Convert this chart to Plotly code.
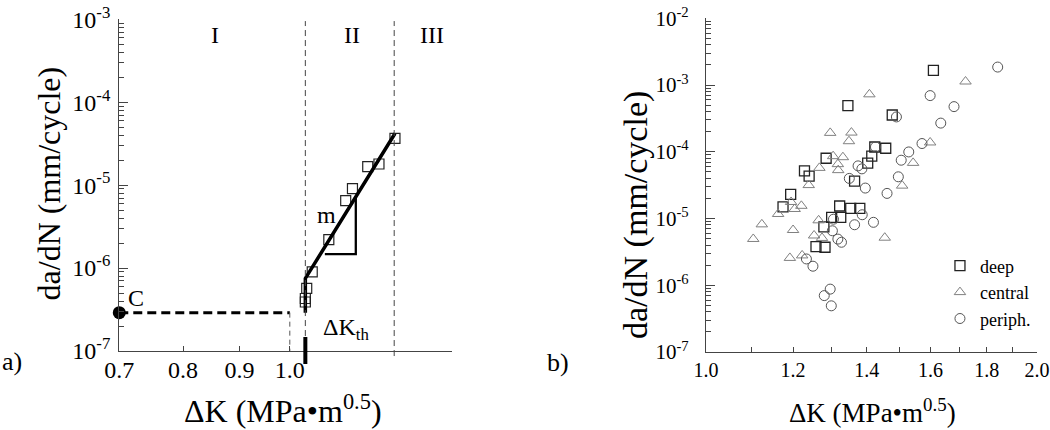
import math
import plotly.graph_objects as go

# ---- panel a) : schematic crack growth curve ----
a_dk = [1.033, 1.033, 1.036, 1.048, 1.085, 1.124, 1.140, 1.177, 1.205, 1.246]
a_rate = [3.9e-7, 4.3e-7, 5.7e-7, 9.0e-7, 2.2e-6, 6.5e-6, 9.1e-6, 1.67e-5, 1.8e-5, 3.67e-5]

fit_dk = [1.033, 1.033, 1.246]
fit_rate = [2.9e-7, 7.5e-7, 4.2e-5]

slope_dk = [1.076, 1.148, 1.148]
slope_rate = [1.475e-6, 1.475e-6, 7.4e-6]

c_dk = 0.7
c_rate = 2.9e-7
dk_onset = 1.0
dk_th = 1.033
dk_region3 = 1.244

a_xticks = [0.7, 0.8, 0.9, 1.0]
a_yticks = [1e-7, 1e-6, 1e-5, 1e-4, 1e-3]

# ---- panel b) : measured data ----
deep_dk = [1.610, 1.346, 1.477, 1.424, 1.457, 1.415, 1.403, 1.365, 1.286, 1.229, 1.241,
           1.194, 1.175, 1.323, 1.354, 1.380, 1.301, 1.326, 1.280, 1.259, 1.283]
deep_rate = [1.66e-3, 4.92e-4, 3.56e-4, 1.18e-4, 1.13e-4, 8.6e-5, 6.76e-5, 3.64e-5, 8.0e-5, 5.18e-5, 4.31e-5,
             2.30e-5, 1.50e-5, 1.54e-5, 1.42e-5, 1.42e-5, 1.04e-5, 1.04e-5, 7.5e-6, 3.79e-6, 3.71e-6]

central_dk = [1.408, 1.722, 1.297, 1.356, 1.349, 1.599, 1.305, 1.332, 1.318, 1.319, 1.268, 1.240, 1.543, 1.508,
              1.195, 1.221, 1.204, 1.163, 1.124, 1.104, 1.200, 1.266, 1.254, 1.275, 1.192, 1.223, 1.454]
central_rate = [7.26e-4, 1.13e-3, 1.92e-4, 1.94e-4, 1.44e-4, 1.38e-4, 8.6e-5, 8.3e-5, 6.53e-5, 5.31e-5, 5.74e-5,
                3.17e-5, 6.82e-5, 3.11e-5, 1.77e-5, 1.55e-5, 1.39e-5, 1.17e-5, 8.18e-6, 4.94e-6, 6.73e-6,
                9.4e-6, 5.57e-6, 5.12e-6, 2.57e-6, 2.80e-6, 5.16e-6]

periph_dk = [1.842, 1.599, 1.681, 1.490, 1.635, 1.572, 1.529, 1.505, 1.426, 1.375, 1.386, 1.350, 1.496, 1.396,
             1.461, 1.387, 1.420, 1.365, 1.306, 1.303, 1.318, 1.328, 1.234, 1.251, 1.297, 1.281, 1.300]
periph_rate = [1.86e-3, 6.95e-4, 4.75e-4, 3.33e-4, 2.69e-4, 1.33e-4, 9.95e-5, 7.48e-5, 1.18e-4, 6.15e-5, 5.55e-5,
               3.99e-5, 4.22e-5, 2.86e-5, 2.38e-5, 1.14e-5, 8.77e-6, 8.07e-6, 9.77e-6, 6.55e-6, 4.92e-6,
               4.41e-6, 2.48e-6, 1.93e-6, 8.75e-7, 7.0e-7, 4.92e-7]

b_xticks = [1.0, 1.2, 1.4, 1.6, 1.8, 2.0]
b_xminor = [1.1, 1.3, 1.5, 1.7, 1.9]
b_yticks = [1e-7, 1e-6, 1e-5, 1e-4, 1e-3, 1e-2]

SERIF = "Liberation Serif, Times New Roman, serif"
AX = "#444"


def pow_label(v):
    return "10<sup>%d</sup>" % round(math.log10(v))


fig = go.Figure()

# panel a traces
fig.add_trace(go.Scatter(x=[c_dk, dk_onset], y=[c_rate, c_rate], mode="lines",
                         line=dict(color="black", width=3, dash="9px,5px"),
                         xaxis="x", yaxis="y", showlegend=False))
fig.add_trace(go.Scatter(x=[dk_onset, dk_onset], y=[c_rate, a_yticks[0]], mode="lines",
                         line=dict(color="#555", width=1, dash="5px,4px"),
                         xaxis="x", yaxis="y", showlegend=False))
fig.add_trace(go.Scatter(x=a_dk, y=a_rate, mode="markers",
                         marker=dict(symbol="square-open", size=10, color="#222", line=dict(width=1.2)),
                         xaxis="x", yaxis="y", showlegend=False))
fig.add_trace(go.Scatter(x=fit_dk, y=fit_rate, mode="lines",
                         line=dict(color="black", width=3.5),
                         xaxis="x", yaxis="y", showlegend=False))
fig.add_trace(go.Scatter(x=slope_dk, y=slope_rate, mode="lines",
                         line=dict(color="black", width=2.3),
                         xaxis="x", yaxis="y", showlegend=False))
fig.add_trace(go.Scatter(x=[c_dk], y=[c_rate], mode="markers", cliponaxis=False,
                         marker=dict(symbol="circle", size=13, color="black"),
                         xaxis="x", yaxis="y", showlegend=False))

# panel b traces
fig.add_trace(go.Scatter(x=deep_dk, y=deep_rate, mode="markers", name="deep",
                         marker=dict(symbol="square-open", size=10, color="#222", line=dict(width=1.3)),
                         xaxis="x2", yaxis="y2"))
fig.add_trace(go.Scatter(x=central_dk, y=central_rate, mode="markers", name="central",
                         marker=dict(symbol="triangle-up-open", size=10, color="#808080", line=dict(width=1)),
                         xaxis="x2", yaxis="y2"))
fig.add_trace(go.Scatter(x=periph_dk, y=periph_rate, mode="markers", name="periph.",
                         marker=dict(symbol="circle-open", size=10, color="#555", line=dict(width=1)),
                         xaxis="x2", yaxis="y2"))

# region boundaries and threshold bar
shapes = []
for xv in [dk_th, dk_region3]:
    shapes.append(dict(type="line", xref="x", yref="paper", x0=xv, x1=xv, y0=0.172, y1=0.951,
                       line=dict(color="#444", width=1, dash="6px,4px")))
shapes.append(dict(type="line", xref="x", yref="paper", x0=dk_th, x1=dk_th, y0=0.1535, y1=0.2163,
                   line=dict(color="black", width=4)))

txt = dict(family=SERIF, size=24, color="black")
ann = []
for label, xv in [("I", 0.855), ("II", 1.138), ("III", 1.345)]:
    ann.append(dict(text=label, x=math.log10(xv), y=math.log10(6.5e-4), xref="x", yref="y",
                    showarrow=False, font=txt))
ann.append(dict(text="m", x=0.0334, y=-5.361, xref="x", yref="y", showarrow=False, font=txt))
ann.append(dict(text="C", x=-0.1394, y=-6.358, xref="x", yref="y", showarrow=False, font=txt))
ann.append(dict(text="ΔK<sub>th</sub>", x=0.028, y=-6.73, xref="x", yref="y", xanchor="left",
                showarrow=False, font=txt))
ann.append(dict(text="a)", x=0.023, y=0.16, xref="paper", yref="paper", xanchor="right", yanchor="middle",
                showarrow=False, font=dict(family=SERIF, size=26, color="black")))
ann.append(dict(text="b)", x=0.544, y=0.158, xref="paper", yref="paper", xanchor="right", yanchor="middle",
                showarrow=False, font=dict(family=SERIF, size=26, color="black")))
# axis titles
ann.append(dict(text="da/dN (mm/cycle)", x=0.0476, y=0.5733, xref="paper", yref="paper", textangle=-90,
                xanchor="center", yanchor="middle",
                showarrow=False, font=dict(family=SERIF, size=32, color="black")))
ann.append(dict(text="ΔK (MPa•m<sup>0.5</sup>)", x=0.2695, y=0.0488, xref="paper", yref="paper",
                xanchor="center", yanchor="middle",
                showarrow=False, font=dict(family=SERIF, size=32, color="black")))
ann.append(dict(text="da/dN (mm/cycle)", x=0.6057, y=0.5, xref="paper", yref="paper", textangle=-90,
                xanchor="center", yanchor="middle",
                showarrow=False, font=dict(family=SERIF, size=34, color="black")))
ann.append(dict(text="ΔK (MPa•m<sup>0.5</sup>)", x=0.8314, y=0.0442, xref="paper", yref="paper",
                xanchor="center", yanchor="middle",
                showarrow=False, font=dict(family=SERIF, size=27, color="black")))

minor_y = dict(ticks="inside", ticklen=5, dtick="D1", tickcolor=AX, tickwidth=1, showgrid=False)

fig.update_layout(
    width=1050, height=430,
    margin=dict(l=0, r=0, t=0, b=0),
    paper_bgcolor="white", plot_bgcolor="white",
    font=dict(family=SERIF, color="black"),
    shapes=shapes,
    annotations=ann,
    showlegend=True,
    legend=dict(x=0.8952, y=0.4244, xanchor="left", yanchor="top", bgcolor="rgba(0,0,0,0)",
                font=dict(family=SERIF, size=18, color="black"), itemwidth=30),
    xaxis=dict(type="log", domain=[0.1136, 0.4302], range=[math.log10(0.7), math.log10(1.403)],
               anchor="y", showline=True, linecolor=AX, linewidth=1.3, showgrid=False, zeroline=False,
               automargin=False,
               tickmode="array", tickvals=a_xticks, ticktext=["%.1f" % v for v in a_xticks],
               ticks="inside", ticklen=5, tickcolor=AX, ticklabelstandoff=-3,
               tickfont=dict(family=SERIF, size=24, color="black")),
    yaxis=dict(type="log", domain=[0.1837, 0.9551], range=[-7, -3], anchor="x",
               showline=True, linecolor=AX, linewidth=1.3, showgrid=False, zeroline=False,
               automargin=False,
               tickmode="array", tickvals=a_yticks, ticktext=[pow_label(v) for v in a_yticks],
               ticks="inside", ticklen=9, tickcolor=AX, minor=minor_y, ticklabelstandoff=3,
               tickfont=dict(family=SERIF, size=24, color="black")),
    xaxis2=dict(type="log", domain=[0.6724, 0.9876], range=[0, math.log10(2.0)],
                anchor="y2", showline=True, linecolor=AX, linewidth=1.3, showgrid=False, zeroline=False,
                automargin=False, ticklabeloverflow="allow",
                tickmode="array", tickvals=b_xticks, ticktext=["%.1f" % v for v in b_xticks],
                ticks="inside", ticklen=5, tickcolor=AX, ticklabelstandoff=0,
                minor=dict(tickmode="array", tickvals=b_xminor, ticks="inside", ticklen=5,
                           tickcolor=AX, showgrid=False),
                tickfont=dict(family=SERIF, size=20, color="black")),
    yaxis2=dict(type="log", domain=[0.1814, 0.9574], range=[-7, -2], anchor="x2",
                showline=True, linecolor=AX, linewidth=1.3, showgrid=False, zeroline=False,
                automargin=False,
                tickmode="array", tickvals=b_yticks, ticktext=[pow_label(v) for v in b_yticks],
                ticks="inside", ticklen=9, tickcolor=AX, minor=minor_y, ticklabelstandoff=12,
                tickfont=dict(family=SERIF, size=21, color="black")),
)

# the page body has a default 8px margin; drop it so the figure sits at the window corner
fig.write_html("out.html", config={"displayModeBar": False},
               post_script="document.body.style.margin='0';")
